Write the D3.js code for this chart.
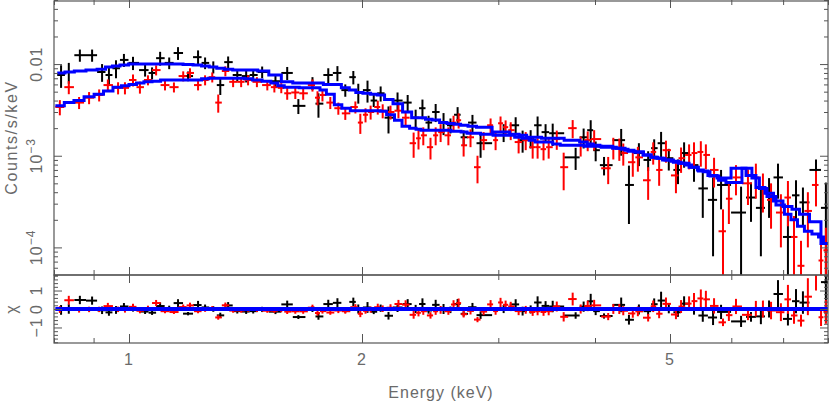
<!DOCTYPE html>
<meta charset="utf-8">

<head>
  <script src="https://d3js.org/d3.v7.min.js"></script>
  <style>
    html,
    body {
      margin: 0;
      padding: 0;
      background: #fff;
    }

    svg {
      display: block;
      font-family: "Liberation Sans", Arial, sans-serif;
    }

    .frame {
      fill: none;
      stroke: #555;
      stroke-width: 1.2;
    }

    .lab {
      fill: #6a6a6a;
      font-size: 16px;
      letter-spacing: 1px;
    }
  </style>
</head>

<body>
  <svg id="chart" width="832" height="405"></svg>
</body>
<script>
  // group 1 (black): bin centre energy (keV), rate and error in 1e-3 counts/s/keV, folded model
  const blackE = [0.817, 0.836, 0.864, 0.896, 0.923, 0.942, 0.962, 0.985, 1.012, 1.049, 1.071, 1.097, 1.127, 1.157, 1.192, 1.228, 1.254, 1.285, 1.312, 1.343, 1.380, 1.417, 1.447, 1.486, 1.546, 1.601, 1.655, 1.726, 1.757, 1.809, 1.859, 1.903, 1.949, 1.978, 2.033, 2.071, 2.114, 2.164, 2.223, 2.291, 2.346, 2.394, 2.438, 2.490, 2.549, 2.602, 2.658, 2.706, 2.778, 2.846, 3.048, 3.159, 3.225, 3.303, 3.372, 3.453, 3.527, 3.776, 3.867, 3.949, 4.008, 4.109, 4.324, 4.425, 4.558, 4.685, 4.770, 4.869, 4.982, 5.120, 5.214, 5.370, 5.512, 5.683, 5.820, 6.177, 6.362, 6.552, 6.713, 6.894, 7.101, 7.274, 7.425, 7.720, 7.950]
  const blackRate = [7.6, 8.2, 12.5, 12.5, 8.2, 7.6, 9.0, 11.1, 10.3, 8.6, 8.0, 11.6, 10.3, 13.2, 7.4, 11.9, 10.3, 9.3, 5.9, 10.5, 7.6, 7.4, 7.6, 8.2, 6.5, 8.0, 3.5, 6.2, 3.7, 7.6, 8.0, 5.2, 7.2, 4.9, 5.2, 4.0, 4.8, 2.6, 4.0, 3.8, 2.6, 3.3, 2.3, 3.0, 2.3, 2.15, 2.8, 1.59, 2.3, 1.37, 1.81, 2.15, 1.48, 1.55, 2.15, 1.81, 1.76, 0.96, 1.59, 1.90, 1.15, 0.79, 1.48, 0.48, 1.07, 0.90, 1.21, 1.37, 0.94, 0.70, 1.07, 0.79, 0.44, 0.33, 0.48, 0.24, 0.35, 0.27, 0.39, 0.58, 0.13, 0.37, 0.31, 0.70, 0.27]
  const blackErr = [2.1, 2.1, 1.9, 1.9, 1.8, 1.7, 2.0, 1.8, 1.7, 1.3, 1.2, 2.0, 1.5, 2.1, 0.9, 2.2, 1.5, 1.4, 1.3, 1.6, 1.1, 1.1, 1.1, 1.2, 1.0, 1.3, 0.65, 1.0, 1.1, 1.4, 1.5, 0.8, 1.2, 1.2, 1.4, 0.6, 0.9, 0.85, 0.9, 0.8, 0.58, 0.8, 0.43, 0.67, 0.62, 0.40, 0.59, 0.30, 0.49, 0.42, 0.40, 0.48, 0.40, 0.35, 0.53, 0.40, 0.48, 0.26, 0.39, 0.54, 0.28, 0.18, 0.48, 0.30, 0.30, 0.22, 0.30, 0.45, 0.25, 0.21, 0.33, 0.27, 0.23, 0.25, 0.22, 0.22, 0.16, 0.19, 0.18, 0.24, 0.10, 0.17, 0.14, 0.21, 0.24]
  const blackModel = [8.0, 8.2, 8.4, 8.6, 8.8, 9.3, 9.5, 9.75, 10.0, 10.0, 10.0, 10.0, 10.0, 10.0, 9.9, 9.8, 9.5, 9.3, 9.0, 8.8, 8.6, 8.6, 8.6, 8.4, 7.6, 6.4, 6.2, 6.2, 6.2, 6.0, 6.0, 5.5, 5.2, 4.9, 4.8, 4.7, 4.6, 4.1, 3.7, 3.0, 2.6, 2.6, 2.5, 2.45, 2.3, 2.25, 2.2, 2.15, 2.1, 2.05, 1.81, 1.72, 1.67, 1.59, 1.59, 1.55, 1.55, 1.48, 1.41, 1.34, 1.30, 1.27, 1.21, 1.15, 1.10, 1.02, 0.96, 0.94, 0.90, 0.85, 0.83, 0.75, 0.68, 0.61, 0.57, 0.73, 0.61, 0.45, 0.39, 0.32, 0.28, 0.26, 0.23, 0.19, 0.11]

  // group 2 (red)
  const redE = [0.814, 0.836, 0.862, 0.888, 0.915, 0.939, 0.968, 0.988, 1.012, 1.033, 1.058, 1.084, 1.113, 1.143, 1.175, 1.199, 1.228, 1.254, 1.281, 1.304, 1.332, 1.363, 1.396, 1.425, 1.463, 1.509, 1.541, 1.573, 1.601, 1.640, 1.679, 1.726, 1.752, 1.778, 1.820, 1.864, 1.903, 1.961, 1.990, 2.021, 2.052, 2.096, 2.127, 2.177, 2.229, 2.277, 2.332, 2.366, 2.400, 2.452, 2.490, 2.527, 2.586, 2.626, 2.666, 2.706, 2.762, 2.820, 2.872, 2.932, 2.976, 3.020, 3.066, 3.113, 3.187, 3.255, 3.323, 3.372, 3.432, 3.485, 3.570, 3.644, 3.743, 3.833, 3.914, 3.990, 4.160, 4.224, 4.300, 4.351, 4.476, 4.544, 4.685, 4.756, 4.841, 4.940, 5.089, 5.167, 5.292, 5.370, 5.480, 5.563, 5.700, 5.854, 5.957, 6.084, 6.305, 6.455, 6.592, 6.753, 6.954, 7.101, 7.230, 7.382, 7.535, 7.720, 7.836, 7.950]
  const redRate = [3.4, 5.6, 3.8, 4.3, 4.6, 5.9, 5.5, 5.5, 6.7, 5.6, 6.7, 8.6, 5.9, 5.6, 7.4, 8.0, 5.9, 6.7, 7.2, 3.8, 8.4, 6.4, 6.4, 6.7, 6.4, 5.9, 5.6, 5.5, 4.8, 4.9, 4.8, 5.9, 4.3, 4.6, 3.8, 3.3, 2.9, 3.4, 2.3, 2.8, 3.0, 3.4, 3.1, 3.0, 3.1, 2.6, 1.37, 1.55, 1.67, 1.24, 1.67, 1.81, 1.67, 2.3, 2.44, 1.30, 1.59, 0.75, 1.48, 2.15, 1.48, 2.26, 2.05, 1.90, 1.41, 1.48, 1.24, 1.24, 1.18, 1.24, 1.52, 0.75, 2.0, 1.30, 1.48, 1.52, 0.73, 1.24, 1.21, 1.07, 0.85, 0.96, 0.54, 1.10, 0.70, 1.15, 0.61, 0.94, 1.02, 1.07, 1.10, 1.02, 0.70, 0.15, 0.34, 0.58, 0.50, 0.58, 0.44, 0.33, 0.24, 0.35, 0.13, 0.063, 0.25, 0.48, 0.072, 0.093]
  const redErr = [0.64, 0.91, 0.57, 0.65, 0.69, 0.89, 0.83, 0.83, 1.0, 0.84, 0.84, 1.08, 0.74, 0.70, 0.93, 1.0, 0.74, 0.84, 0.9, 0.85, 1.05, 0.8, 0.8, 0.84, 0.8, 0.74, 0.7, 0.69, 0.72, 0.74, 0.72, 0.89, 0.75, 0.69, 0.57, 0.5, 0.44, 0.51, 0.57, 0.49, 0.52, 0.59, 0.54, 0.52, 0.54, 0.49, 0.42, 0.38, 0.37, 0.33, 0.37, 0.40, 0.37, 0.43, 0.46, 0.32, 0.35, 0.25, 0.33, 0.40, 0.33, 0.42, 0.38, 0.42, 0.35, 0.33, 0.31, 0.31, 0.29, 0.31, 0.36, 0.33, 0.45, 0.32, 0.36, 0.38, 0.24, 0.33, 0.33, 0.29, 0.26, 0.29, 0.21, 0.30, 0.23, 0.31, 0.22, 0.29, 0.31, 0.33, 0.34, 0.31, 0.25, 0.11, 0.16, 0.21, 0.21, 0.24, 0.20, 0.17, 0.14, 0.18, 0.09, 0.055, 0.15, 0.20, 0.062, 0.071]
  const redModel = [3.5, 3.8, 4.0, 4.4, 4.7, 5.1, 5.6, 5.8, 6.0, 6.2, 6.4, 6.5, 6.7, 6.7, 6.7, 6.7, 6.7, 6.9, 7.0, 7.0, 7.0, 7.0, 7.0, 6.9, 6.7, 6.5, 6.2, 5.8, 5.6, 5.6, 5.5, 5.5, 5.5, 5.2, 4.7, 3.6, 3.3, 3.1, 3.1, 3.1, 3.1, 3.1, 3.05, 2.8, 2.44, 2.1, 2.0, 1.95, 1.90, 1.90, 1.90, 1.90, 1.90, 1.85, 1.85, 1.81, 1.76, 1.76, 1.72, 1.72, 1.67, 1.67, 1.67, 1.67, 1.59, 1.55, 1.48, 1.41, 1.41, 1.41, 1.34, 1.30, 1.30, 1.30, 1.27, 1.27, 1.24, 1.24, 1.21, 1.18, 1.12, 1.10, 1.02, 0.96, 0.94, 0.90, 0.87, 0.83, 0.79, 0.75, 0.70, 0.67, 0.60, 0.54, 0.51, 0.51, 0.73, 0.57, 0.44, 0.36, 0.29, 0.23, 0.20, 0.17, 0.15, 0.14, 0.13, 0.11]

  const xMajor = [1, 2, 5]
  const yTopMajor = [1e-4, 1e-3, 1e-2]
  const yResMajor = [-1, 0, 1]

  const L = 54, R = 828, T = 0, MID = 275, B = 343

  let svg = d3.select("#chart")

  let x = d3.scaleLog().domain([0.8, 8.0]).range([L, R])
  let yTop = d3.scaleLog().domain([5e-5, 0.05]).range([MID, T])
  let yRes = d3.scaleLinear().domain([-1.84, 1.84]).range([B, MID])

  function makeBins(E, rate, err, model) {
    return E.map((e, i) => {
      let hi = i < E.length - 1 ? Math.sqrt(e * E[i + 1]) : e * e / Math.sqrt(e * E[i - 1])
      let lo = i > 0 ? Math.sqrt(e * E[i - 1]) : e * e / Math.sqrt(e * E[i + 1])
      let f = rate[i] * 1e-3, df = err[i] * 1e-3, m = model[i] * 1e-3
      return { e: e, lo: lo, hi: hi, f: f, df: df, m: m, r: (f - m) / m, dr: df / m }
    })
  }

  let groups = [
    { bins: makeBins(blackE, blackRate, blackErr, blackModel), color: "#000" },
    { bins: makeBins(redE, redRate, redErr, redModel), color: "#ff0000" }
  ]

  let defs = svg.append("defs")
  defs.append("clipPath").attr("id", "clipTop")
    .append("rect").attr("x", L).attr("y", T).attr("width", R - L).attr("height", MID - T)
  defs.append("clipPath").attr("id", "clipRes")
    .append("rect").attr("x", L).attr("y", MID).attr("width", R - L).attr("height", B - MID)

  let topLayer = svg.append("g").attr("clip-path", "url(#clipTop)")
  let resLayer = svg.append("g").attr("clip-path", "url(#clipRes)")

  // data crosses
  groups.forEach(g => {
    let gt = topLayer.append("g").attr("stroke", g.color).attr("stroke-width", 2)
    gt.selectAll("line.h").data(g.bins).enter().append("line")
      .attr("x1", d => x(d.lo)).attr("x2", d => x(d.hi))
      .attr("y1", d => yTop(d.f)).attr("y2", d => yTop(d.f))
    gt.selectAll("line.v").data(g.bins).enter().append("line")
      .attr("x1", d => x(d.e)).attr("x2", d => x(d.e))
      .attr("y1", d => yTop(d.f + d.df))
      .attr("y2", d => d.f - d.df > 0 ? yTop(d.f - d.df) : MID + 10)

    let gr = resLayer.append("g").attr("stroke", g.color).attr("stroke-width", 2)
    gr.selectAll("line.h").data(g.bins).enter().append("line")
      .attr("x1", d => x(d.lo)).attr("x2", d => x(d.hi))
      .attr("y1", d => yRes(d.r)).attr("y2", d => yRes(d.r))
    gr.selectAll("line.v").data(g.bins).enter().append("line")
      .attr("x1", d => x(d.e)).attr("x2", d => x(d.e))
      .attr("y1", d => yRes(d.r + d.dr)).attr("y2", d => yRes(d.r - d.dr))
  })

  // folded model, stepped over the bins
  let stepTop = d3.line().x(p => x(p[0])).y(p => yTop(p[1]))
  let stepRes = d3.line().x(p => x(p[0])).y(p => yRes(p[1]))
  groups.forEach(g => {
    let pts = g.bins.flatMap(d => [[d.lo, d.m], [d.hi, d.m]])
    topLayer.append("path").attr("d", stepTop(pts))
      .attr("fill", "none").attr("stroke", "#0000ff").attr("stroke-width", 3)
    let zero = g.bins.flatMap(d => [[d.lo, 0], [d.hi, 0]])
    resLayer.append("path").attr("d", stepRes(zero))
      .attr("fill", "none").attr("stroke", "#0000ff").attr("stroke-width", 4)
  })

  // ticks
  function ticks(axis, ty, tx, size) {
    svg.append("g").attr("transform", "translate(" + [tx, ty] + ")")
      .call(axis.tickSize(size).tickFormat(""))
      .call(g => g.select(".domain").remove())
      .call(g => g.selectAll("line").attr("stroke", "#555"))
  }
  let xMinor = x.ticks().filter(v => !xMajor.includes(v))
  let yTopMinor = yTop.ticks().filter(v => !yTopMajor.some(t => Math.abs(t - v) < 1e-12))
  let yResMinor = yRes.ticks(20).filter(v => !yResMajor.includes(v))

  ticks(d3.axisTop(x).tickValues(xMajor), T, 0, -8)
  ticks(d3.axisTop(x).tickValues(xMinor), T, 0, -5)
  ticks(d3.axisBottom(x).tickValues(xMajor), MID, 0, -8)
  ticks(d3.axisBottom(x).tickValues(xMinor), MID, 0, -5)
  ticks(d3.axisTop(x).tickValues(xMajor), MID, 0, -8)
  ticks(d3.axisTop(x).tickValues(xMinor), MID, 0, -5)
  ticks(d3.axisBottom(x).tickValues(xMajor), B, 0, -9)
  ticks(d3.axisBottom(x).tickValues(xMinor), B, 0, -5)

  ticks(d3.axisLeft(yTop).tickValues(yTopMajor), 0, L, -8)
  ticks(d3.axisLeft(yTop).tickValues(yTopMinor), 0, L, -4)
  ticks(d3.axisRight(yTop).tickValues(yTopMajor), 0, R, -8)
  ticks(d3.axisRight(yTop).tickValues(yTopMinor), 0, R, -4)
  ticks(d3.axisLeft(yRes).tickValues(yResMajor), 0, L, -8)
  ticks(d3.axisLeft(yRes).tickValues(yResMinor), 0, L, -4)
  ticks(d3.axisRight(yRes).tickValues(yResMajor), 0, R, -8)
  ticks(d3.axisRight(yRes).tickValues(yResMinor), 0, R, -4)

  // frames
  svg.append("rect").attr("class", "frame")
    .attr("x", L).attr("y", T + 1).attr("width", R - L).attr("height", MID - T - 1)
  svg.append("rect").attr("class", "frame")
    .attr("x", L).attr("y", MID).attr("width", R - L).attr("height", B - MID)

  // tick labels
  svg.append("g").selectAll("text").data(xMajor).enter().append("text")
    .attr("class", "lab")
    .attr("x", d => x(d)).attr("y", 365)
    .attr("text-anchor", "middle")
    .text(d => d)

  yTopMajor.forEach(v => {
    let t = svg.append("text").attr("class", "lab")
      .attr("text-anchor", "middle")
      .attr("transform", "translate(" + [42, yTop(v)] + ") rotate(-90)")
    if (v === 1e-2) {
      t.text("0.01")
    } else {
      t.append("tspan").text("10")
      t.append("tspan").attr("dy", -7).attr("font-size", 12).text("\u2212" + Math.round(-Math.log10(v)))
    }
  })

  svg.append("g").selectAll("text").data(yResMajor).enter().append("text")
    .attr("class", "lab")
    .attr("text-anchor", "middle")
    .attr("transform", d => "translate(" + [42, yRes(d)] + ") rotate(-90)")
    .text(d => d < 0 ? "\u2212" + (-d) : d)

  // axis titles
  svg.append("text").attr("class", "lab")
    .attr("text-anchor", "middle")
    .attr("transform", "translate(" + [17, (T + MID) / 2] + ") rotate(-90)")
    .style("letter-spacing", "1.6px")
    .text("Counts/s/keV")
  svg.append("text").attr("class", "lab")
    .attr("text-anchor", "middle")
    .attr("transform", "translate(" + [17, yRes(0)] + ") rotate(-90)")
    .text("\u03c7")
  svg.append("text").attr("class", "lab")
    .attr("text-anchor", "middle")
    .attr("x", (L + R) / 2).attr("y", 398)
    .text("Energy (keV)")
</script>
